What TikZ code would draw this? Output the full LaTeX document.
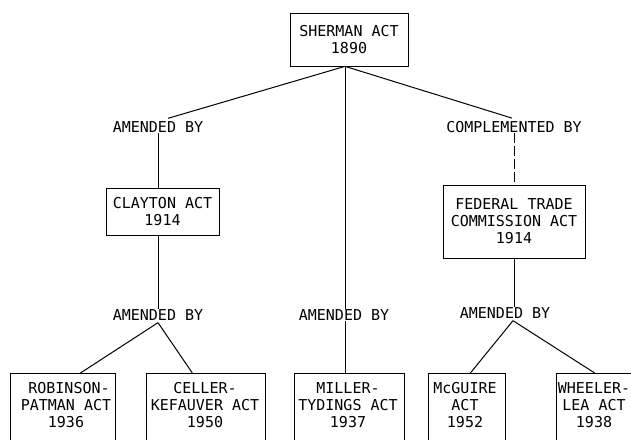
\documentclass[tikz,border=0pt]{standalone}
\usepackage{fontspec}
\setmonofont{DejaVu Sans Mono}
\usetikzlibrary{calc}
\begin{document}
\begin{tikzpicture}[x=1pt,y=-1pt,
  every node/.style={font=\ttfamily\fontsize{15}{17}\selectfont, inner sep=0pt},
  lbl/.style={align=center},
  actbox/.style={draw, line width=0.7pt, align=center},
  openbox/.style={draw, line width=0.7pt, anchor=north, minimum height=100pt},
  conn/.style={line width=1pt},
  thin/.style={line width=0.6pt}]
\clip (0,0) rectangle (631,439);
\fill[white] (0,0) rectangle (631,439);
% top
\node[actbox, minimum width=118pt, minimum height=53pt] (sher) at (349,39.5) {SHERMAN ACT\\1890};
\node[lbl] (am1) at (158,127) {AMENDED BY};
\node[lbl] (comp) at (514,127) {COMPLEMENTED BY};
\node[actbox, minimum width=113pt, minimum height=47pt] (clay) at (162.5,211.5) {CLAYTON ACT\\1914};
\node[actbox, minimum width=142pt, minimum height=73pt] (ftc) at (514,221.5) {FEDERAL TRADE\\COMMISSION ACT\\1914};
\node[lbl] (am2) at (158,315) {AMENDED BY};
\node[lbl] (am3) at (344,315) {AMENDED BY};
\node[lbl] (am4) at (505,313) {AMENDED BY};
% bottom open boxes
\node[openbox, minimum width=105pt] (rob) at (62.5,373) {};
\node[openbox, minimum width=119pt] (cel) at (205.5,373) {};
\node[openbox, minimum width=110pt] (mil) at (349,373) {};
\node[openbox, minimum width=77pt] (mcg) at (466.5,373) {};
\node[openbox, minimum width=86pt] (whe) at (599,373) {};
\node[lbl, anchor=north] (robt) at (66,382) {\hspace*{6pt}ROBINSON-\\PATMAN ACT\\1936};
\node[lbl, anchor=north] (celt) at (205,382) {CELLER-\\KEFAUVER ACT\\1950};
\node[lbl, anchor=north] (milt) at (348,382) {MILLER-\\TYDINGS ACT\\1937};
\node[lbl, anchor=north] (mcgt) at (465,382) {McGUIRE\\ACT\\1952};
\node[lbl, anchor=north] (whet) at (594,382) {WHEELER-\\LEA ACT\\1938};
% connectors
\coordinate (hub) at ($(sher.south)+(-4,0)$);
\draw[conn] (hub) -- ($(am1.north)+(10,-3)$);
\draw[conn] (hub) -- ($(comp.north)+(-2,-3)$);
\draw[thin] (hub) -- (am3.north -| hub);
\draw[thin] (am3.south -| hub) -- (mil.north -| hub);
\draw[thin] (am1.south) -- (clay.north -| am1.south);
\draw[thin] (clay.south -| am1.south) -- (am2.north);
\draw[thin, dash pattern=on 10pt off 3pt] (comp.south) -- (ftc.north);
\draw[thin] (ftc.south) -- ($(am4.north)+(9,0)$);
\coordinate (ap2) at ($(am2.south)+(0,2)$);
\draw[conn] (ap2) -- ($(rob.north west)!0.67!(rob.north east)$);
\draw[conn] (ap2) -- ($(cel.north west)!0.39!(cel.north east)$);
\coordinate (ap4) at ($(am4.south)+(8,2)$);
\draw[conn] (ap4) -- ($(mcg.north west)!0.55!(mcg.north east)$);
\draw[conn] (ap4) -- ($(whe.north west)!0.45!(whe.north east)$);
\end{tikzpicture}
\end{document}
